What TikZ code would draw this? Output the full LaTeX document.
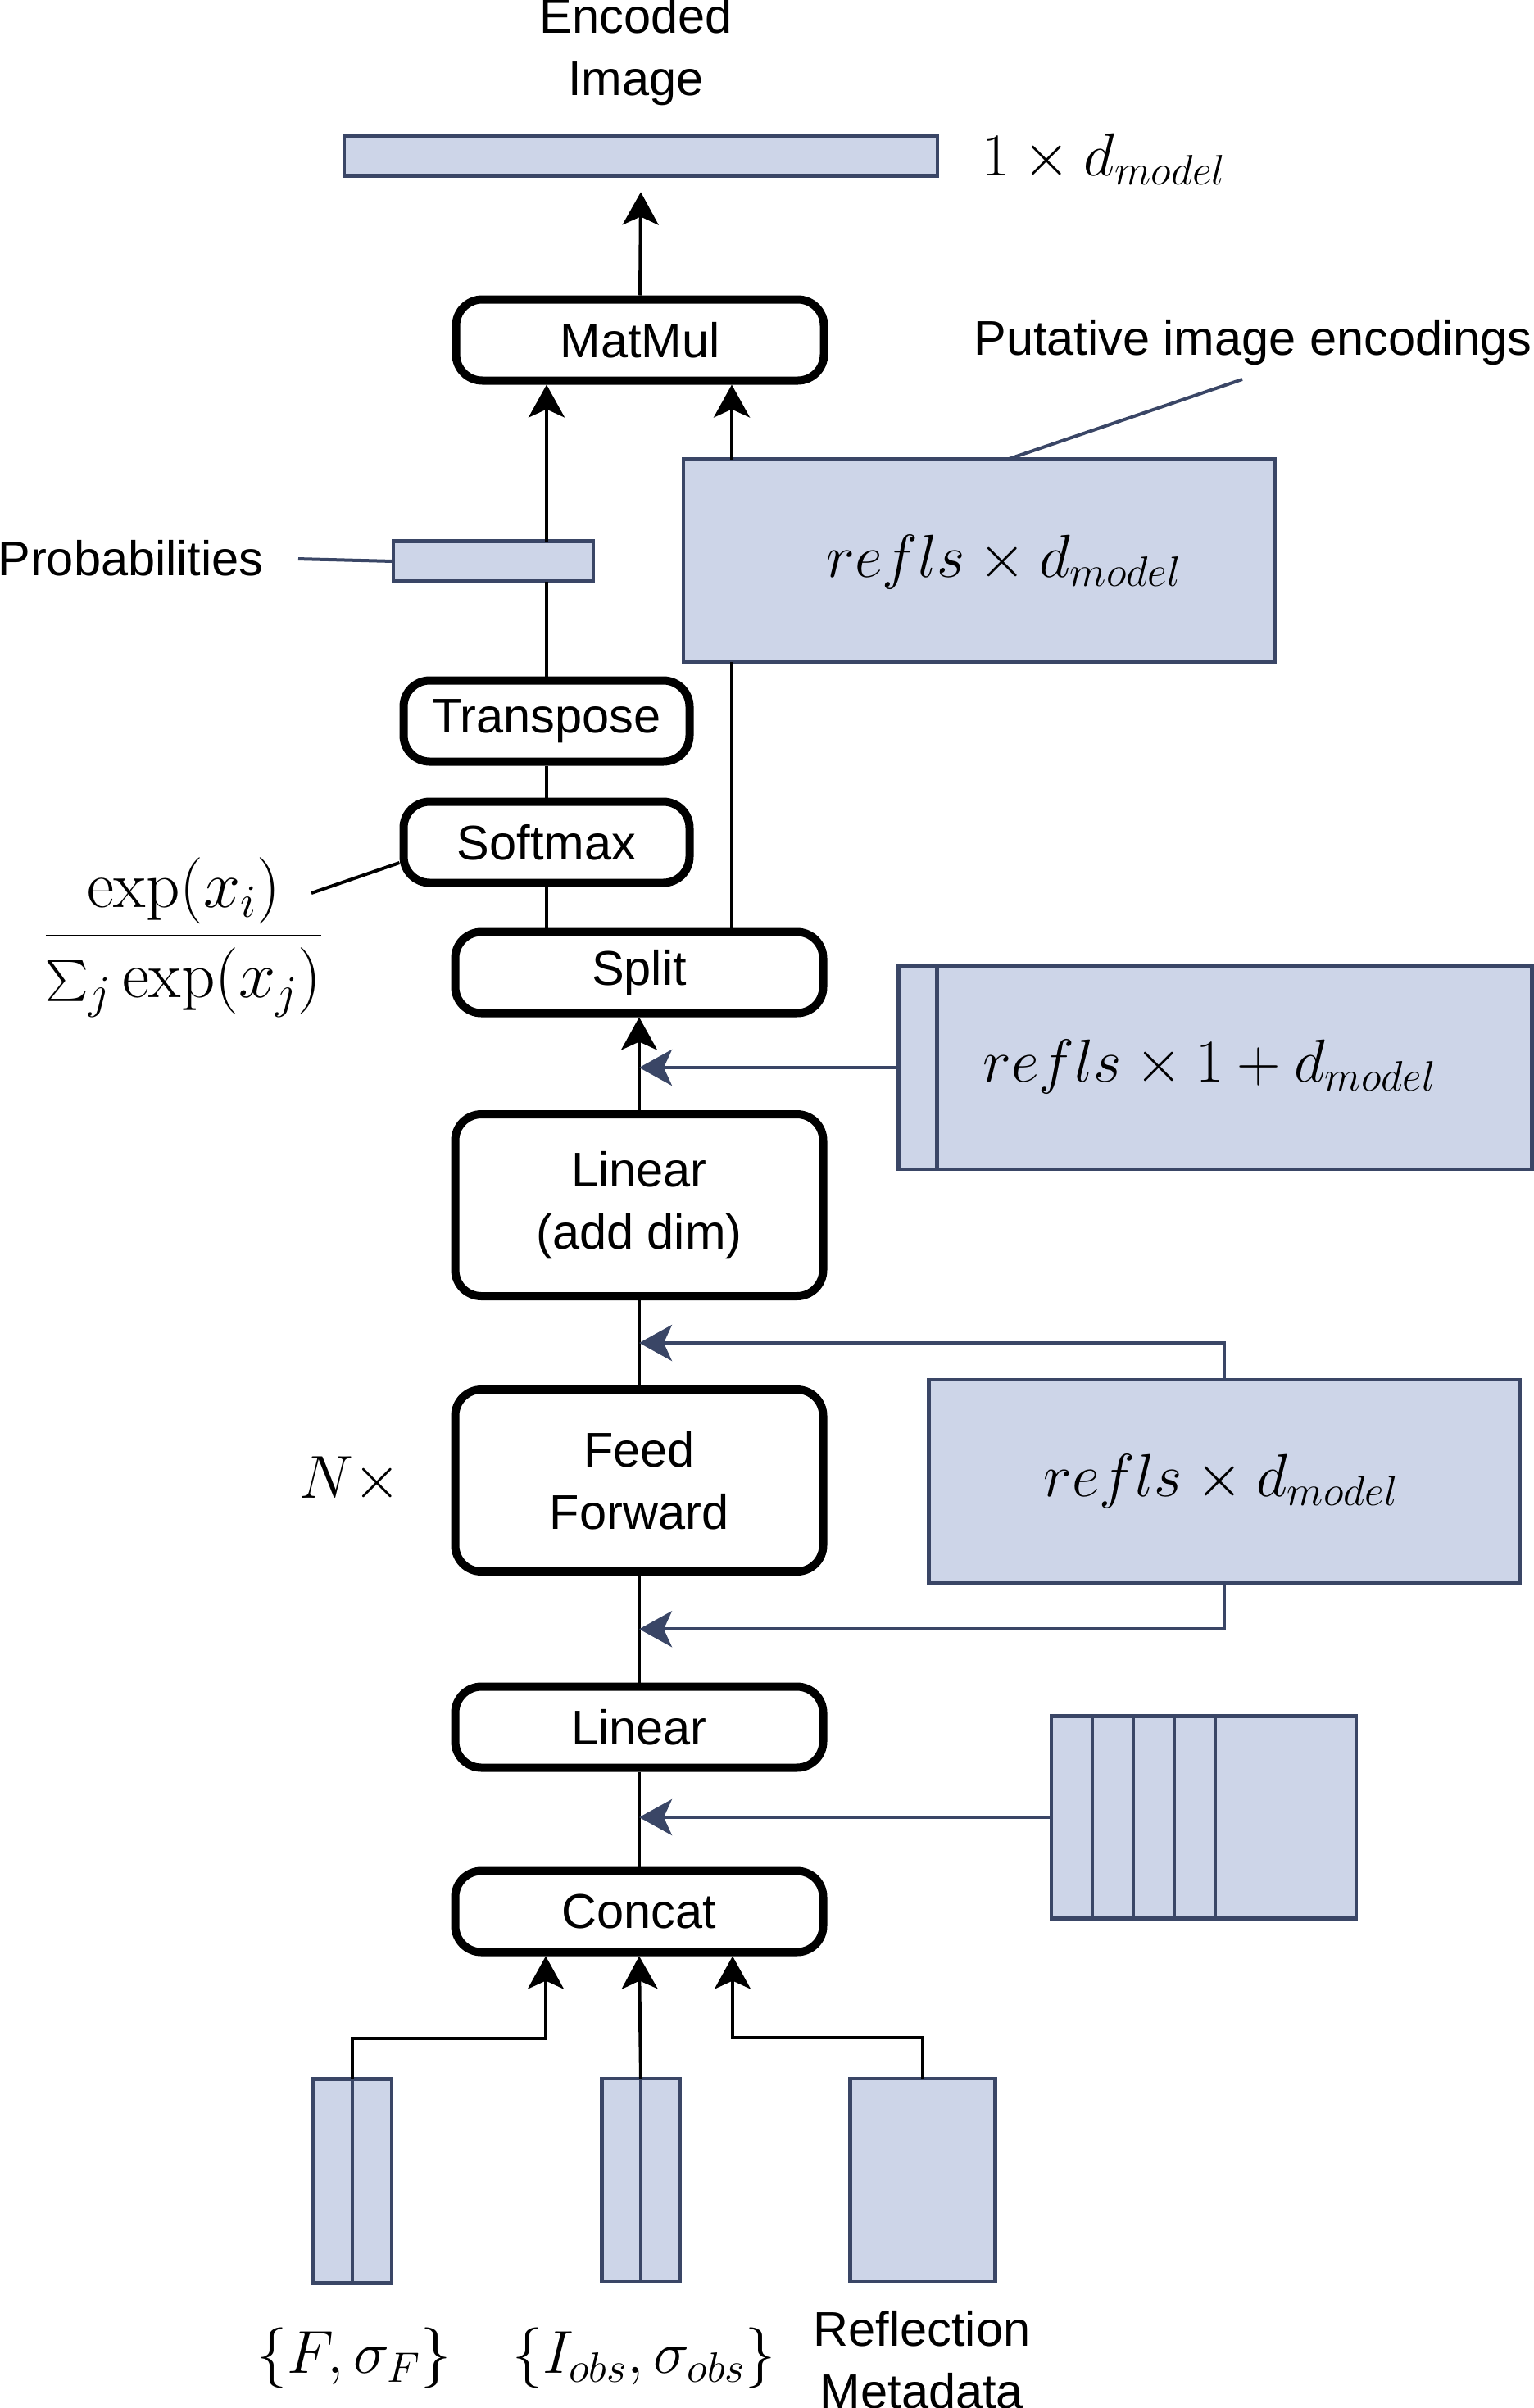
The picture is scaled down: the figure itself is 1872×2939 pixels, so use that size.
\documentclass[tikz,border=0pt]{standalone}
\usepackage{fix-cm}
\usepackage{exscale}
\usepackage[no-math]{fontspec}
\newfontfamily\diagfont{Liberation Sans}
\usepackage{tikz}
\usetikzlibrary{arrows.meta, positioning, calc}

\definecolor{tensorfill}{RGB}{205,213,232}
\definecolor{tensorline}{RGB}{58,70,102}
\newcommand{\boxfont}{\diagfont\fontsize{29.75}{38}\selectfont}
\newcommand{\dimsize}{\fontsize{37}{44}\selectfont}
\newcommand{\fracsize}{\fontsize{40.5}{48}\selectfont}

\begin{document}
\begin{tikzpicture}[
    x=0.5pt, y=-0.5pt,
    opbox/.style={rectangle, rounded corners=16pt, draw=black, line width=5pt, fill=white, minimum width=224.5pt, minimum height=49.5pt, inner sep=0pt, align=center, font=\boxfont},
    tensor/.style={rectangle, draw=tensorline, line width=2.25pt, fill=tensorfill, inner sep=0pt, outer sep=0pt},
    label/.style={inner sep=0pt, align=center, font=\boxfont},
    dimlabel/.style={inner sep=0pt, font=\dimsize},
    arrow/.style={-{Stealth[length=20pt, width=22pt, inset=5pt]}, line width=2pt, black},
    feed/.style={-{Stealth[length=20pt, width=22pt, inset=5pt]}, line width=2pt, tensorline},
    link/.style={line width=2pt, black},
    divider/.style={line width=2.25pt, tensorline},
    callout/.style={line width=2pt, tensorline}
]
    \useasboundingbox (0,0) rectangle (1872,2939);

    % Operations
    \node[opbox] (matmul) at (781,415) {MatMul};
    \node[opbox, minimum width=174.5pt] (transpose) at (667,880) {Transpose};
    \node[opbox, minimum width=174.5pt] (softmax) at (667,1028) {Softmax};
    \node[opbox] (split) at (780,1187) {Split};
    \node[opbox, minimum height=111pt] (linadd) at (780,1471) {Linear\\(add dim)};
    \node[opbox, minimum height=111pt] (ff) at (780,1807) {Feed\\Forward};
    \node[opbox] (linear) at (780,2108) {Linear};
    \node[opbox] (concat) at (780,2333) {Concat};

    % Tensors
    \node[tensor, minimum width=362pt, minimum height=24.5pt] (encbar) at (782,190) {};
    \node[tensor, minimum width=122pt, minimum height=24.5pt] (prob) at (602,685) {};
    \node[tensor, minimum width=361pt, minimum height=123.5pt] (putative) at (1195,684) {};
    \node[tensor, minimum width=386.5pt, minimum height=124pt] (addbox) at (1483,1303) {};
    \node[tensor, minimum width=360.5pt, minimum height=124pt] (ffside) at (1494,1808) {};
    \node[tensor, minimum width=186pt, minimum height=123.5pt] (stripes) at (1469,2218) {};
    \node[tensor, minimum width=48pt, minimum height=124.5pt] (fbox) at (430,2662) {};
    \node[tensor, minimum width=47.5pt, minimum height=124pt] (ibox) at (782,2661) {};
    \node[tensor, minimum width=88.5pt, minimum height=124pt] (reflbox) at (1126,2661) {};

    % Column dividers
    \draw[divider] ([xshift=23.5pt]addbox.north west) -- ([xshift=23.5pt]addbox.south west);
    \foreach \k in {1,...,4}
        \draw[divider] ([xshift=\k*25pt]stripes.north west) -- ([xshift=\k*25pt]stripes.south west);
    \draw[divider] (fbox.north) -- (fbox.south);
    \draw[divider] (ibox.north) -- (ibox.south);

    % Labels
    \node[label] (enclabel) at (776,63) {Encoded\\Image};
    \node[dimlabel, anchor=west] (encdim) at (1198,194) {$1\times d_{model}$};
    \node[label] (putlabel) at (1529,418) {Putative image encodings};
    \node[label, anchor=east] (problabel) at (322,681) {Probabilities};
    \node[dimlabel] (putdim) at (1225,686) {$refls\times d_{model}$};
    \node[dimlabel, font=\fracsize] (softlabel) at (224,1144) {$\displaystyle\frac{\exp(x_i)}{\sum_j \exp(x_j)}$};
    \node[dimlabel] (adddim) at (1476,1302) {$refls\times 1+d_{model}$};
    \node[dimlabel] (nlabel) at (427,1806) {$N\times$};
    \node[dimlabel] (ffdim) at (1490,1808) {$refls\times d_{model}$};
    \node[dimlabel] (flabel) at (432,2878) {$\{F,\sigma_F\}$};
    \node[dimlabel] (ilabel) at (786,2878) {$\{I_{obs},\sigma_{obs}\}$};
    \node[label] (refllabel) at (1125,2880) {Reflection\\Metadata};

    % Callout lines
    \coordinate (putend) at (1516,463);
    \coordinate (fracend) at (380,1090);
    \draw[callout, shorten <=21pt] (problabel.east) -- (prob.west);
    \draw[callout] ([xshift=17.5pt]putative.north) -- (putend);
    \draw[link] (fracend) -- ([yshift=-12.5pt]softmax.west);

    % Arrows
    \coordinate (splitR) at ($(split.north)+(113,0)$);
    \draw[arrow] (matmul.north) -- ([yshift=-10pt]encbar.south);
    \draw[link] (transpose.north) -- (transpose.north |- prob.south);
    \draw[arrow] (transpose.north |- prob.north) -- (transpose.north |- matmul.south);
    \draw[link] (softmax.north) -- (transpose.south);
    \draw[link] (split.north -| softmax.south) -- (softmax.south);
    \draw[link] (splitR) -- (splitR |- putative.south);
    \draw[arrow] (splitR |- putative.north) -- (splitR |- matmul.south);

    \draw[arrow] (linadd.north) -- (split.south);
    \draw[feed] (addbox.west) -- (addbox.west -| split.south);
    \draw[link] (ff.north) -- (linadd.south);
    \draw[feed] (ffside.north) |- ($(linadd.south)!0.5!(ff.north)$);
    \draw[link] (linear.north) -- (ff.south);
    \draw[feed] (ffside.south) |- ($(ff.south)!0.5!(linear.north)$);
    \draw[link] (concat.north) -- (linear.south);
    \draw[feed] (stripes.west) -- (stripes.west -| concat.north);

    \draw[arrow] (fbox.north) -- ++(0,-50) -| ([xshift=-57pt]concat.south);
    \draw[arrow] (ibox.north) -- (concat.south);
    \draw[arrow] (reflbox.north) -- ++(0,-50) -| ([xshift=57pt]concat.south);
\end{tikzpicture}
\end{document}
